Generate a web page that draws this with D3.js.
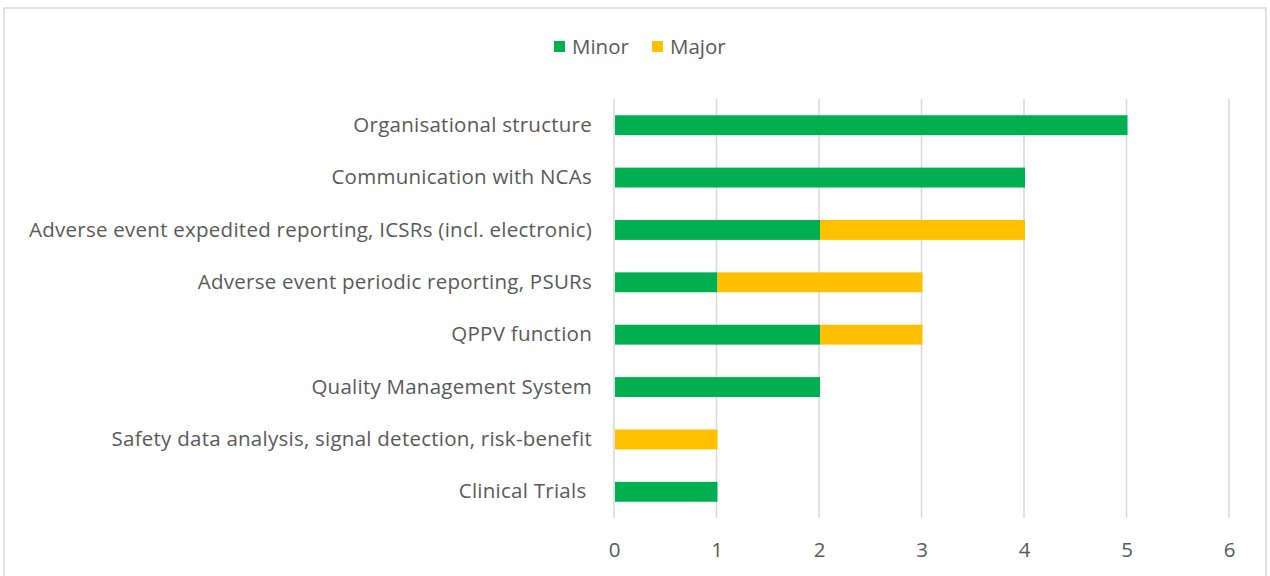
<!DOCTYPE html>
<html lang="en">
<head>
  <meta charset="utf-8">
  <title>Findings by category</title>
  <style>
    body { margin: 0; background: #fff; }
    text { font-family: "Open Sans", sans-serif; fill: #595959; }
    .grid line { stroke: #d9d9d9; stroke-width: 1.5px; }
  </style>
</head>
<body>
<div id="chart"></div>
<script src="https://d3js.org/d3.v7.min.js"></script>
<script>
  const categories = [
    "Organisational structure",
    "Communication with NCAs",
    "Adverse event expedited reporting, ICSRs (incl. electronic)",
    "Adverse event periodic reporting, PSURs",
    "QPPV function",
    "Quality Management System",
    "Safety data analysis, signal detection, risk-benefit",
    "Clinical Trials "
  ];
  const minor = [5, 4, 2, 1, 2, 2, 0, 1];
  const major = [0, 0, 2, 2, 1, 0, 1, 0];
  const seriesNames = ["Minor", "Major"];
  const xTicks = [0, 1, 2, 3, 4, 5, 6];

  const colors = { Minor: "#00b050", Major: "#ffc000" };
  const width = 1270, height = 576;
  const plotLeft = 614, plotRight = 1229, plotTop = 99, plotBottom = 518;
  const fontSize = "20.5px", letterSp = "0.25px";

  const svg = d3.select("#chart").append("svg")
    .attr("width", width)
    .attr("height", height);

  // chart frame
  svg.append("rect")
    .attr("x", 4).attr("y", 8)
    .attr("width", 1262).attr("height", 600)
    .attr("fill", "#fff")
    .attr("stroke", "#d9d9d9")
    .attr("stroke-width", 1.5);

  const rows = categories.map((c, i) => ({ category: c, Minor: minor[i], Major: major[i] }));

  const x = d3.scaleLinear().domain([0, 6]).range([plotLeft, plotRight]);
  const y = d3.scaleBand().domain(categories).range([plotTop, plotBottom]).paddingInner(0.62).paddingOuter(0.31);

  // vertical gridlines
  svg.append("g").attr("class", "grid")
    .selectAll("line")
    .data(xTicks)
    .join("line")
    .attr("x1", d => x(d)).attr("x2", d => x(d))
    .attr("y1", plotTop).attr("y2", plotBottom);

  const stacked = d3.stack().keys(seriesNames)(rows);

  svg.append("g")
    .selectAll("g")
    .data(stacked)
    .join("g")
    .attr("fill", d => colors[d.key])
    .selectAll("rect")
    .data(d => d)
    .join("rect")
    .attr("x", d => x(d[0]) + 1)
    .attr("y", d => y(d.data.category))
    .attr("width", d => Math.max(0, x(d[1]) - x(d[0])))
    .attr("height", y.bandwidth());

  // x axis labels
  const xAxis = d3.axisBottom(x).tickValues(xTicks).tickFormat(d3.format("d")).tickSize(0).tickPadding(0);
  const xg = svg.append("g").attr("transform", "translate(0,542)").call(xAxis);
  xg.select(".domain").remove();
  xg.selectAll("text")
    .style("font-family", "'Open Sans', sans-serif")
    .style("font-size", fontSize)
    .attr("fill", "#595959");

  // category labels
  const yAxis = d3.axisLeft(y).tickSize(0).tickPadding(22);
  const yg = svg.append("g").attr("transform", `translate(${plotLeft},0)`).call(yAxis);
  yg.select(".domain").remove();
  yg.selectAll("text")
    .style("font-family", "'Open Sans', sans-serif")
    .style("font-size", fontSize)
    .style("letter-spacing", letterSp)
    .style("white-space", "pre")
    .attr("fill", "#595959");

  // legend
  const legend = svg.append("g");
  const legendItems = [{ name: "Minor", x: 554 }, { name: "Major", x: 652 }];
  legendItems.forEach(it => {
    legend.append("rect")
      .attr("x", it.x).attr("y", 41)
      .attr("width", 11).attr("height", 11)
      .attr("fill", colors[it.name]);
    legend.append("text")
      .attr("x", it.x + 18).attr("y", 47)
      .attr("dy", "0.35em")
      .style("font-size", fontSize)
      .text(it.name);
  });
</script>
</body>
</html>
